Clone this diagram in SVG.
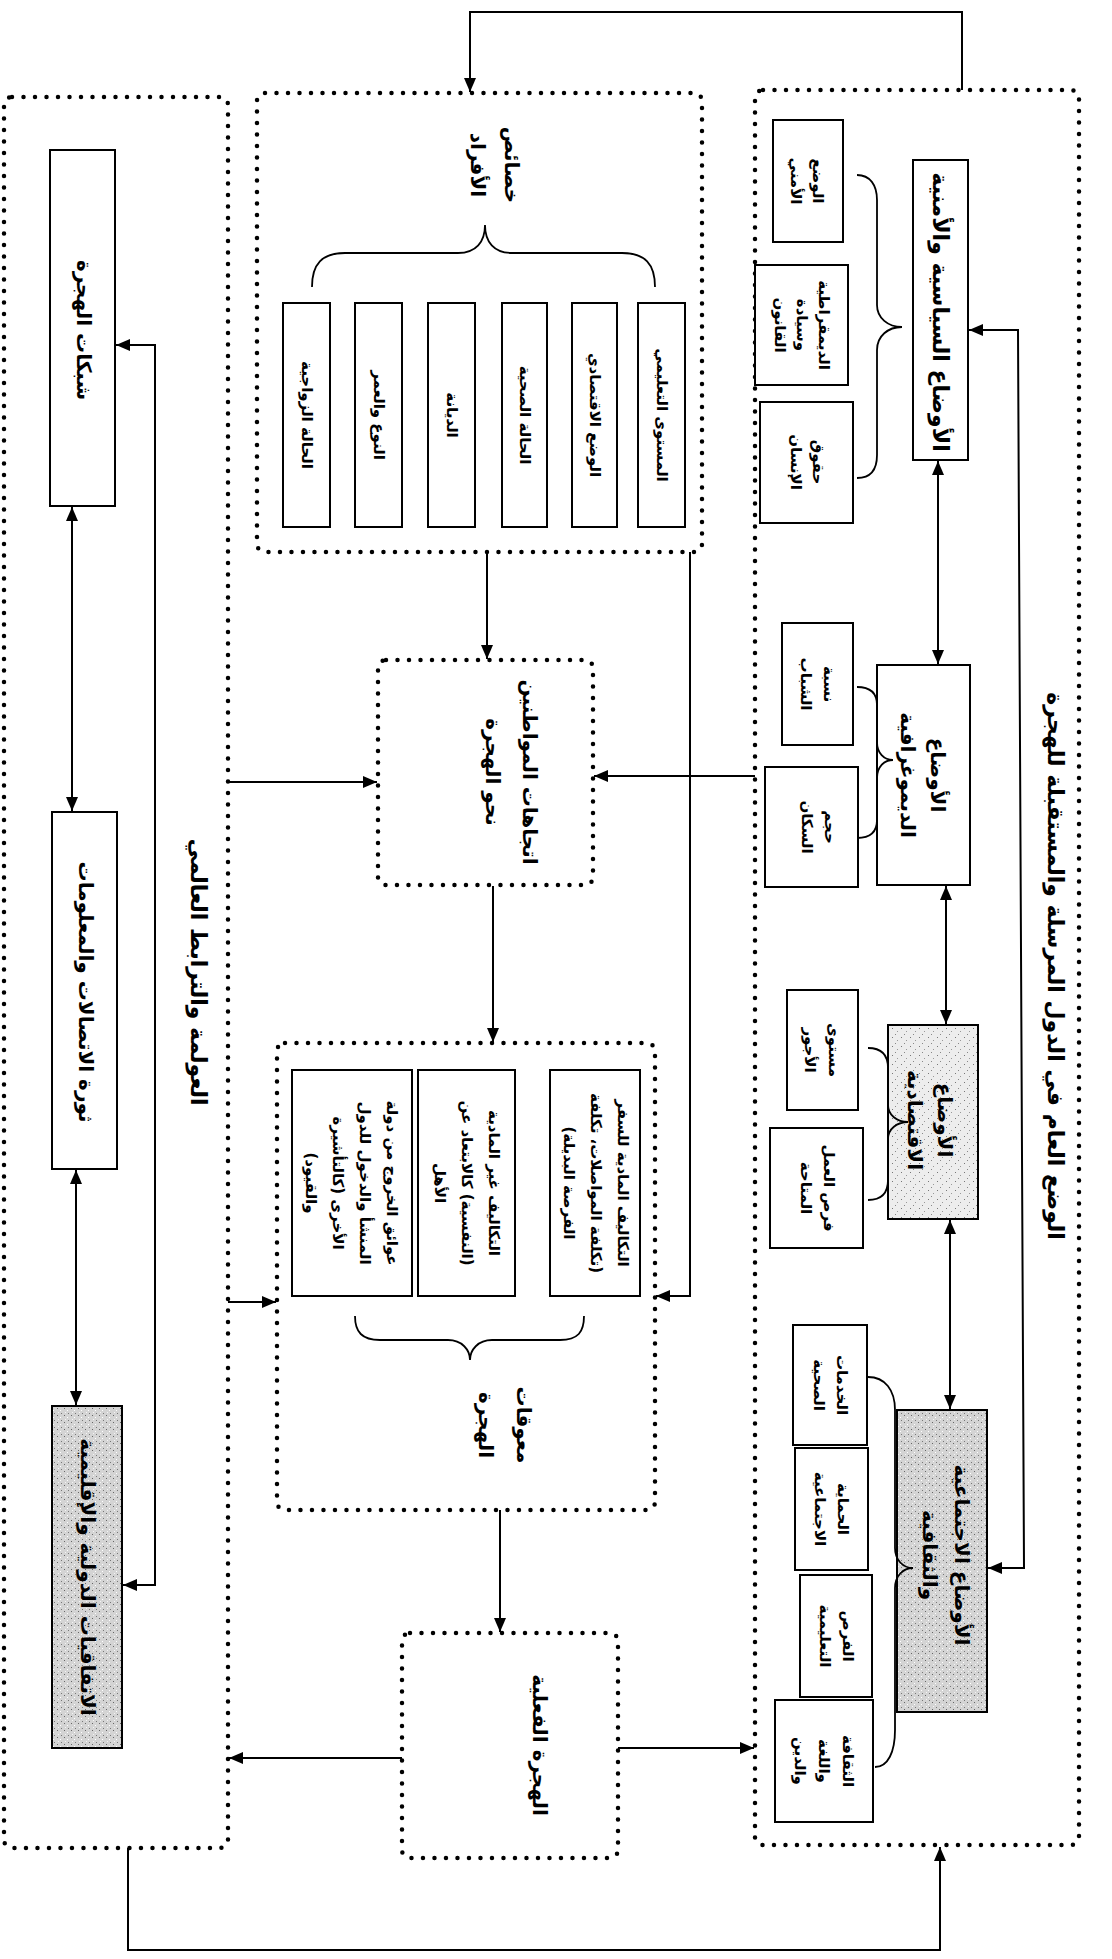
<svg xmlns="http://www.w3.org/2000/svg" width="1112" height="1959" viewBox="0 0 1112 1959">
<defs>
<style>
.t{font-family:'DejaVu Sans',sans-serif;font-weight:bold;font-size:15px;text-anchor:middle;dominant-baseline:central;direction:rtl;fill:#000}
.h{font-size:20px}
.hh{font-size:22px}
.box{fill:#fff;stroke:#000;stroke-width:2}
.g1{fill:url(#sp1);stroke:#000;stroke-width:2}
.g2{fill:url(#sp2);stroke:#000;stroke-width:2}
.dot{fill:none;stroke:#000;stroke-width:4.5;stroke-dasharray:0 11.5;stroke-linecap:round}
.ln{fill:none;stroke:#000;stroke-width:2}
.br{fill:none;stroke:#000;stroke-width:1.8}
</style>
<pattern id="sp1" width="9" height="9" patternUnits="userSpaceOnUse">
<rect width="9" height="9" fill="#ededed"/>
<rect x="1" y="2" width="1" height="1" fill="#777"/>
<rect x="6" y="5" width="1" height="1" fill="#999"/>
<rect x="4" y="8" width="1" height="1" fill="#888"/>
</pattern>
<pattern id="sp2" width="7" height="7" patternUnits="userSpaceOnUse">
<rect width="7" height="7" fill="#d4d4d4"/>
<rect x="1" y="1" width="1" height="1" fill="#666"/>
<rect x="4" y="3" width="1" height="1" fill="#fff"/>
<rect x="5" y="6" width="1" height="1" fill="#777"/>
<rect x="2" y="5" width="1" height="1" fill="#f4f4f4"/>
</pattern>
<marker id="ah" viewBox="0 0 14 12" refX="14" refY="6" markerWidth="14" markerHeight="12" markerUnits="userSpaceOnUse" orient="auto-start-reverse"><path d="M0,0 L14,6 L0,12 z" fill="#000"/></marker>
</defs>
<rect width="1112" height="1959" fill="#fff"/>

<g id="panel-right">
<rect class="dot" x="755" y="90" width="324" height="1755" rx="8"/>
<text class="t hh" transform="translate(1055,966) rotate(90)">الوضع العام في الدول المرسلة والمستقبلة للهجرة</text>
</g>

<g id="political">
<rect class="box" x="913" y="160" width="55" height="300"/>
<text class="t hh" transform="translate(940,312) rotate(90)">الأوضاع السياسية والأمنية</text>
</g>
<g id="security">
<rect class="box" x="773" y="120" width="70" height="122"/>
<text class="t" transform="translate(818,181) rotate(90)">الوضع</text>
<text class="t" transform="translate(796,181) rotate(90)">الأمني</text>
</g>
<g id="democracy">
<rect class="box" x="755" y="265" width="93" height="120"/>
<text class="t" transform="translate(824,325) rotate(90)">الديمقراطية</text>
<text class="t" transform="translate(802,325) rotate(90)">وسيادة</text>
<text class="t" transform="translate(780,325) rotate(90)">القانون</text>
</g>
<g id="rights">
<rect class="box" x="760" y="402" width="93" height="121"/>
<text class="t" transform="translate(818,462) rotate(90)">حقوق</text>
<text class="t" transform="translate(796,462) rotate(90)">الإنسان</text>
</g>
<path class="br" d="M857,175 C870,175 877,185 877,200 L877,305 C877,318 888,327 902,327 C888,327 877,336 877,350 L877,455 C877,470 870,478 857,478"/>

<g id="demographic">
<rect class="box" x="877" y="665" width="93" height="220"/>
<text class="t h" transform="translate(938,775) rotate(90)">الأوضاع</text>
<text class="t h" transform="translate(908,775) rotate(90)">الديموغرافية</text>
</g>
<g id="youth">
<rect class="box" x="782" y="623" width="71" height="122"/>
<text class="t" transform="translate(829,684) rotate(90)">نسبة</text>
<text class="t" transform="translate(806,684) rotate(90)">الشباب</text>
</g>
<g id="population">
<rect class="box" x="765" y="767" width="93" height="120"/>
<text class="t" transform="translate(830,827) rotate(90)">حجم</text>
<text class="t" transform="translate(807,827) rotate(90)">السكان</text>
</g>
<path class="br" d="M857,687 C870,687 877,693 877,705 L877,742 C877,753 884,760 893,760 C884,760 877,767 877,778 L877,820 C877,832 870,838 857,838"/>

<g id="economic">
<rect class="g1" x="888" y="1025" width="90" height="194"/>
<text class="t h" transform="translate(945,1120) rotate(90)">الأوضاع</text>
<text class="t h" transform="translate(915,1120) rotate(90)">الاقتصادية</text>
</g>
<g id="wages">
<rect class="box" x="787" y="990" width="71" height="120"/>
<text class="t" transform="translate(834,1050) rotate(90)">مستوى</text>
<text class="t" transform="translate(810,1050) rotate(90)">الأجور</text>
</g>
<g id="jobs">
<rect class="box" x="770" y="1128" width="93" height="120"/>
<text class="t" transform="translate(829,1188) rotate(90)">فرص العمل</text>
<text class="t" transform="translate(806,1188) rotate(90)">المتاحة</text>
</g>
<path class="br" d="M868,1048 C881,1048 888,1055 888,1068 L888,1105 C888,1115 897,1122 908,1122 C897,1122 888,1129 888,1139 L888,1180 C888,1193 881,1200 868,1200"/>

<g id="social">
<rect class="g2" x="897" y="1410" width="90" height="302"/>
<text class="t h" transform="translate(962,1555) rotate(90)">الأوضاع الاجتماعية</text>
<text class="t h" transform="translate(930,1555) rotate(90)">والثقافية</text>
</g>
<g id="health">
<rect class="box" x="793" y="1325" width="74" height="120"/>
<text class="t" transform="translate(842,1385) rotate(90)">الخدمات</text>
<text class="t" transform="translate(819,1385) rotate(90)">الصحية</text>
</g>
<g id="protection">
<rect class="box" x="795" y="1448" width="73" height="122"/>
<text class="t" transform="translate(843,1509) rotate(90)">الحماية</text>
<text class="t" transform="translate(820,1509) rotate(90)">الاجتماعية</text>
</g>
<g id="education">
<rect class="box" x="800" y="1575" width="72" height="122"/>
<text class="t" transform="translate(848,1636) rotate(90)">الفرص</text>
<text class="t" transform="translate(825,1636) rotate(90)">التعليمية</text>
</g>
<g id="culture">
<rect class="box" x="775" y="1700" width="98" height="122"/>
<text class="t" transform="translate(848,1761) rotate(90)">الثقافة</text>
<text class="t" transform="translate(824,1761) rotate(90)">واللغة</text>
<text class="t" transform="translate(800,1761) rotate(90)">والدين</text>
</g>
<path class="br" d="M868,1377 C885,1377 895,1390 895,1410 L895,1548 C895,1560 903,1568 913,1568 C903,1568 895,1576 895,1588 L895,1730 C895,1752 888,1767 875,1767"/>

<g id="characteristics">
<rect class="dot" x="257" y="93" width="445" height="459" rx="8"/>
<text class="t h" transform="translate(512,165) rotate(90)">خصائص</text>
<text class="t h" transform="translate(478,165) rotate(90)">الأفراد</text>
<path class="br" d="M312,287 C312,264 322,253 345,253 L458,253 C476,253 485,242 485,225 C485,242 494,253 512,253 L622,253 C645,253 655,264 655,287"/>
</g>
<g id="c-edu">
<rect class="box" x="638" y="303" width="47" height="224"/>
<text class="t" transform="translate(661.5,415) rotate(90)">المستوى التعليمي</text>
</g>
<g id="c-econ">
<rect class="box" x="572" y="303" width="45" height="224"/>
<text class="t" transform="translate(594.5,415) rotate(90)">الوضع الاقتصادي</text>
</g>
<g id="c-health">
<rect class="box" x="502" y="303" width="45" height="224"/>
<text class="t" transform="translate(524.5,415) rotate(90)">الحالة الصحية</text>
</g>
<g id="c-religion">
<rect class="box" x="428" y="303" width="47" height="224"/>
<text class="t" transform="translate(451.5,415) rotate(90)">الديانة</text>
</g>
<g id="c-gender">
<rect class="box" x="355" y="303" width="47" height="224"/>
<text class="t" transform="translate(378.5,415) rotate(90)">النوع والعمر</text>
</g>
<g id="c-marital">
<rect class="box" x="283" y="303" width="47" height="224"/>
<text class="t" transform="translate(306.5,415) rotate(90)">الحالة الزواجية</text>
</g>

<g id="attitudes">
<rect class="dot" x="378" y="660" width="215" height="225" rx="8"/>
<text class="t h" transform="translate(530,772) rotate(90)">اتجاهات المواطنين</text>
<text class="t h" transform="translate(493,772) rotate(90)">نحو الهجرة</text>
</g>

<g id="obstacles">
<rect class="dot" x="277" y="1043" width="378" height="467" rx="8"/>
<path class="br" d="M355,1316 C355,1332 362,1340 380,1340 L448,1340 C462,1340 470,1350 470,1360 C470,1350 478,1340 492,1340 L560,1340 C578,1340 584,1332 584,1316"/>
<text class="t h" transform="translate(524,1425) rotate(90)">معوقات</text>
<text class="t h" transform="translate(486,1425) rotate(90)">الهجرة</text>
</g>
<g id="o-material">
<rect class="box" x="550" y="1070" width="90" height="226"/>
<text class="t" transform="translate(623,1183) rotate(90)">التكاليف المادية للسفر</text>
<text class="t" transform="translate(596,1183) rotate(90)">(تكلفة المواصلات، تكلفة</text>
<text class="t" transform="translate(569,1183) rotate(90)">الفرصة البديلة)</text>
</g>
<g id="o-nonmaterial">
<rect class="box" x="418" y="1070" width="97" height="226"/>
<text class="t" transform="translate(494,1183) rotate(90)">التكاليف غير المادية</text>
<text class="t" transform="translate(467,1183) rotate(90)">(النفسية) كالابتعاد عن</text>
<text class="t" transform="translate(440,1183) rotate(90)">الأهل</text>
</g>
<g id="o-barriers">
<rect class="box" x="292" y="1070" width="120" height="226"/>
<text class="t" transform="translate(392,1183) rotate(90)">عوائق الخروج من دولة</text>
<text class="t" transform="translate(365,1183) rotate(90)">المنشأ والدخول للدول</text>
<text class="t" transform="translate(338,1183) rotate(90)">الأخرى (كالتأشيرة</text>
<text class="t" transform="translate(311,1183) rotate(90)">والقيود)</text>
</g>

<g id="actual">
<rect class="dot" x="402" y="1633" width="216" height="225" rx="8"/>
<text class="t h" transform="translate(540,1745) rotate(90)">الهجرة الفعلية</text>
</g>

<g id="panel-left">
<rect class="dot" x="4" y="97" width="224" height="1751" rx="8"/>
<text class="t hh" transform="translate(198,972) rotate(90)">العولمة والترابط العالمي</text>
</g>
<g id="networks">
<rect class="box" x="50" y="150" width="65" height="356"/>
<text class="t h" transform="translate(84,330) rotate(90)">شبكات الهجرة</text>
</g>
<g id="ict">
<rect class="box" x="52" y="812" width="65" height="357"/>
<text class="t h" transform="translate(86,992) rotate(90)">ثورة الاتصالات والمعلومات</text>
</g>
<g id="agreements">
<rect class="g2" x="52" y="1406" width="70" height="342"/>
<text class="t h" transform="translate(88,1577) rotate(90)">الاتفاقيات الدولية والإقليمية</text>
</g>

<g id="connectors">
<polyline class="ln" points="962,90 962,12 470,12 470,92" marker-end="url(#ah)"/>
<polyline class="ln" points="128,1848 128,1950 940,1950 940,1847" marker-end="url(#ah)"/>
<line class="ln" x1="938" y1="461" x2="938" y2="664" marker-start="url(#ah)" marker-end="url(#ah)"/>
<line class="ln" x1="946" y1="886" x2="946" y2="1024" marker-start="url(#ah)" marker-end="url(#ah)"/>
<line class="ln" x1="950" y1="1220" x2="950" y2="1409" marker-start="url(#ah)" marker-end="url(#ah)"/>
<polyline class="ln" points="969,330 1018,330 1024,1568 988,1568" marker-start="url(#ah)" marker-end="url(#ah)"/>
<line class="ln" x1="755" y1="776" x2="594" y2="776" marker-end="url(#ah)"/>
<line class="ln" x1="228" y1="782" x2="377" y2="782" marker-end="url(#ah)"/>
<line class="ln" x1="487" y1="552" x2="487" y2="659" marker-end="url(#ah)"/>
<line class="ln" x1="493" y1="886" x2="493" y2="1042" marker-end="url(#ah)"/>
<polyline class="ln" points="690,552 690,1296 656,1296" marker-end="url(#ah)"/>
<line class="ln" x1="228" y1="1302" x2="276" y2="1302" marker-end="url(#ah)"/>
<line class="ln" x1="500" y1="1510" x2="500" y2="1632" marker-end="url(#ah)"/>
<line class="ln" x1="402" y1="1758" x2="229" y2="1758" marker-end="url(#ah)"/>
<line class="ln" x1="618" y1="1748" x2="754" y2="1748" marker-end="url(#ah)"/>
<line class="ln" x1="72" y1="507" x2="72" y2="811" marker-start="url(#ah)" marker-end="url(#ah)"/>
<line class="ln" x1="76" y1="1170" x2="76" y2="1405" marker-start="url(#ah)" marker-end="url(#ah)"/>
<polyline class="ln" points="116,345 155,345 155,1585 123,1585" marker-start="url(#ah)" marker-end="url(#ah)"/>
</g>
</svg>
